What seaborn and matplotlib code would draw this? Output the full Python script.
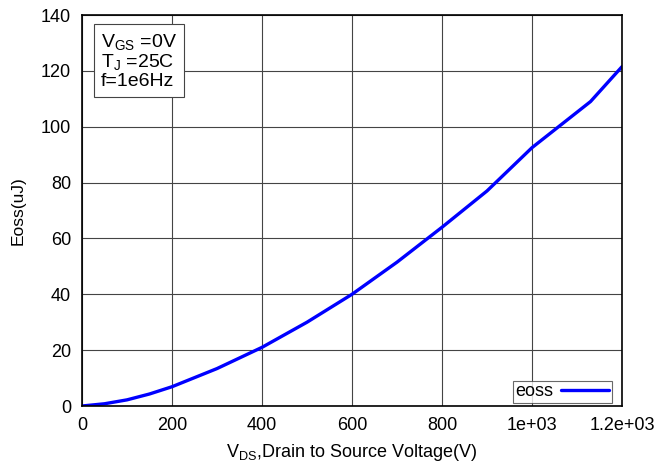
import numpy as np
import pandas as pd
import matplotlib
matplotlib.use("Agg")
import matplotlib.pyplot as plt
import seaborn as sns

# values
vds = [0, 50, 100, 150, 200, 300, 400, 500, 600, 700, 800, 900, 1000, 1130, 1200]
eoss = [0, 0.8, 2.2, 4.3, 6.9, 13.4, 21.0, 30.0, 40.0, 51.5, 64.0, 77.0, 92.5, 109.0, 121.5]
x_ticks = [0, 200, 400, 600, 800, 1000, 1200]
x_labels = ["0", "200", "400", "600", "800", "1e+03", "1.2e+03"]
y_ticks = [0, 20, 40, 60, 80, 100, 120, 140]

sns.set_style("white")
plt.rcParams['font.family'] = ['Liberation Sans', 'DejaVu Sans']
plt.rcParams['mathtext.fontset'] = 'custom'
plt.rcParams['mathtext.rm'] = 'Liberation Sans'
plt.rcParams['text.color'] = 'black'
plt.rcParams['axes.labelcolor'] = 'black'
plt.rcParams['xtick.color'] = 'black'
plt.rcParams['ytick.color'] = 'black'

df = pd.DataFrame({"vds": vds, "eoss": eoss})

fig = plt.figure(figsize=(6.61, 4.65), dpi=100)
ax = fig.add_axes([82 / 661, 1 - 406 / 465, 540 / 661, 391 / 465])

sns.lineplot(data=df, x="vds", y="eoss", ax=ax, color="#0000ff", lw=2.4, label="eoss")

ax.set_xlim(0, 1200)
ax.set_ylim(0, 140)
ax.set_xticks(x_ticks)
ax.set_xticklabels(x_labels)
ax.set_yticks(y_ticks)
ax.grid(True, color="#444444", lw=0.8)
ax.tick_params(labelsize=13, length=0)
ax.tick_params(axis="x", pad=8)
ax.tick_params(axis="y", pad=8)
for s in ax.spines.values():
    s.set_color("black")
    s.set_linewidth(1.2)

ax.set_xlabel("V$_{\\mathregular{DS}}$,Drain to Source Voltage(V)", fontsize=13, labelpad=6)
ax.set_ylabel("Eoss(uJ)", fontsize=12.5, labelpad=11)

ax.text(0.035, 0.955,
        "V$_{\\mathregular{GS}}$ =0V\nT$_{\\mathregular{J}}$ =25C\nf=1e6Hz",
        transform=ax.transAxes, fontsize=14, va="top", ha="left", linespacing=1.0,
        bbox=dict(boxstyle="square,pad=0.35", fc="white", ec="#444444", lw=0.8))

leg = ax.legend(loc="lower right", bbox_to_anchor=(1 - 10 / 540, 3 / 391),
                borderaxespad=0, fontsize=13, frameon=True, fancybox=False,
                markerfirst=False, borderpad=0.15, handlelength=2.7,
                handletextpad=0.4)
leg.get_frame().set_edgecolor("#444444")
leg.get_frame().set_linewidth(0.8)

fig.savefig("out.png", dpi=100)
